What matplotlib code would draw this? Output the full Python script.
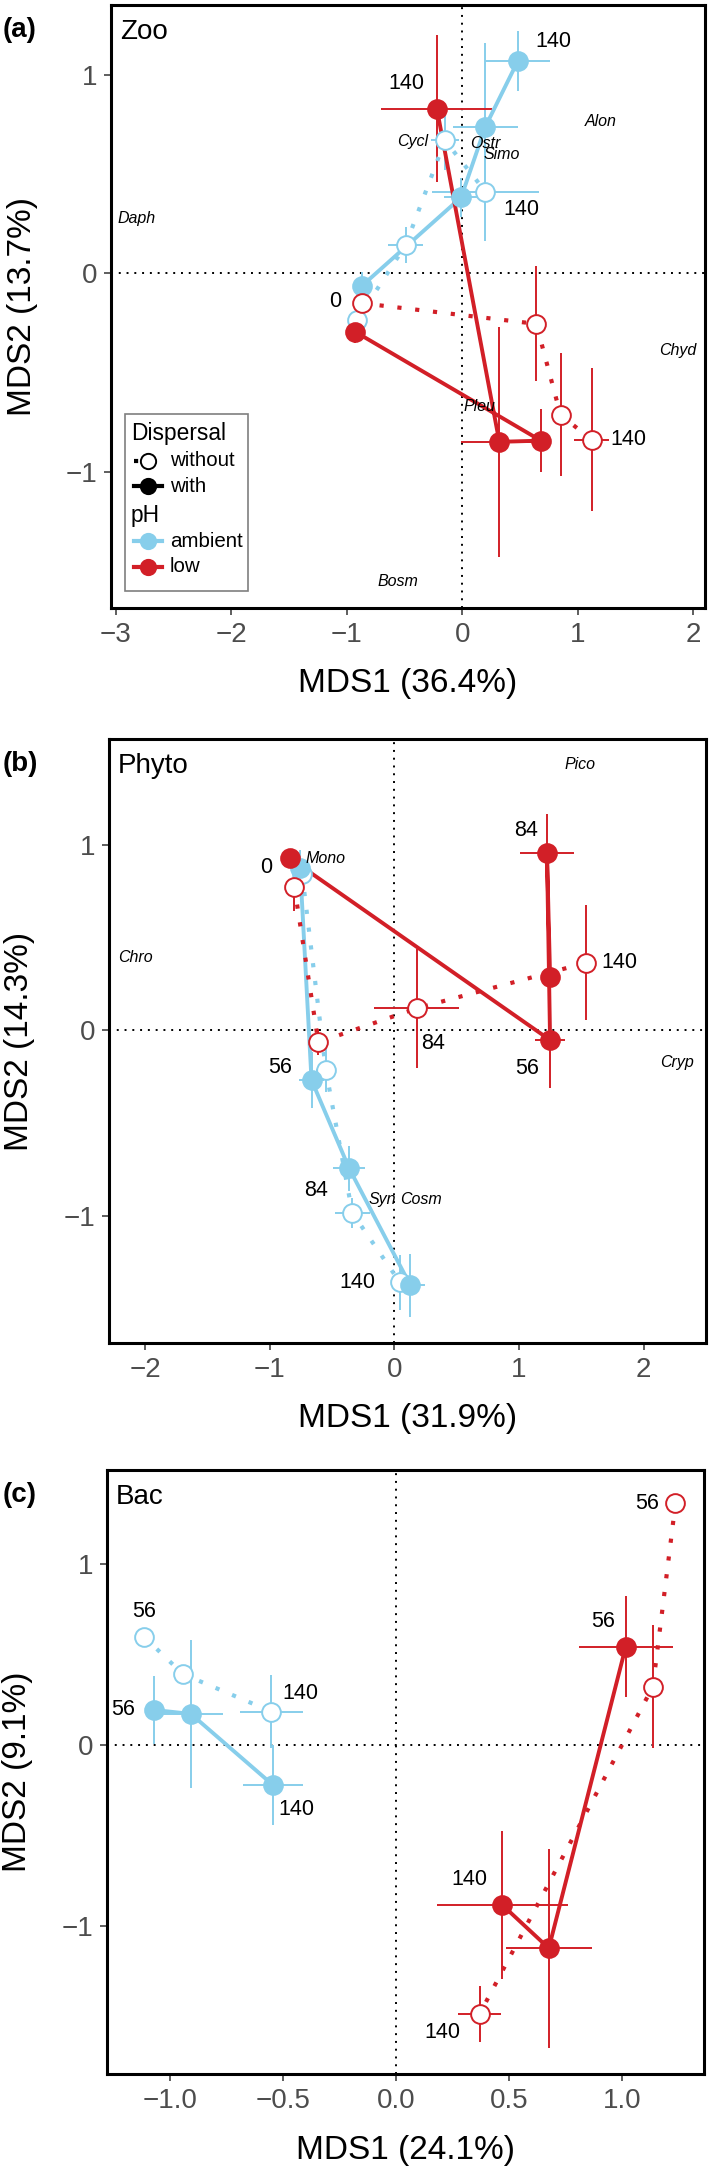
import numpy as np
import matplotlib
matplotlib.use("Agg")
import matplotlib.pyplot as plt
from matplotlib.lines import Line2D
from matplotlib.patches import Rectangle

plt.rcParams['font.family'] = ['Liberation Sans', 'DejaVu Sans']

BLUE = '#87ceeb'
RED = '#d21f27'

# series order in every panel: ambient/with, ambient/without, low/with, low/without
ph_levels = ['ambient', 'ambient', 'low', 'low']
dispersal = ['with', 'without', 'with', 'without']

# ---- (a) Zoo, days 0, 56, 84, 140
zoo_x = [[-0.87, -0.01, 0.20, 0.48],
         [-0.91, -0.49, -0.15, 0.20],
         [-0.93, 0.68, 0.32, -0.22],
         [-0.87, 0.64, 0.85, 1.12]]
zoo_y = [[-0.064, 0.383, 0.74, 1.07],
         [-0.236, 0.143, 0.67, 0.412],
         [-0.294, -0.844, -0.85, 0.83],
         [-0.151, -0.255, -0.714, -0.84]]
zoo_xerr = [[0.05, 0.15, 0.28, 0.28],
            [0.06, 0.15, 0.12, 0.46],
            [0.03, 0.05, 0.33, 0.48],
            [0.03, 0.05, 0.04, 0.15]]
zoo_yerr = [[0.07, 0.10, 0.42, 0.15],
            [0.03, 0.09, 0.15, 0.25],
            [0.06, 0.16, 0.58, 0.37],
            [0.03, 0.29, 0.31, 0.36]]
zoo_species = ['Alon', 'Cycl', 'Ostr', 'Simo', 'Daph', 'Chyd', 'Pleu', 'Bosm']
zoo_species_x = [1.20, -0.43, 0.20, 0.34, -2.82, 1.86, 0.15, -0.555]
zoo_species_y = [0.765, 0.664, 0.655, 0.60, 0.274, -0.39, -0.67, -1.555]
# (series, point, text, dx px, dy px)
zoo_labels = [(0, 3, '140', 36, 20), (2, 3, '140', -31, 25), (1, 3, '140', 36, -18),
              (3, 0, '0', -27, 2), (3, 3, '140', 37, 0)]

# ---- (b) Phyto, days 0, 56, 84, 140
phy_x = [[-0.756, -0.665, -0.363, 0.127],
         [-0.74, -0.55, -0.338, 0.044],
         [-0.836, 1.249, 1.224, 1.249],
         [-0.803, -0.61, 0.178, 1.54]]
phy_y = [[0.872, -0.27, -0.746, -1.375],
         [0.84, -0.216, -0.985, -1.36],
         [0.925, -0.054, 0.953, 0.288],
         [0.772, -0.066, 0.117, 0.363]]
phy_xerr = [[0.03, 0.10, 0.13, 0.12],
            [0.03, 0.08, 0.14, 0.07],
            [0.03, 0.12, 0.22, 0.06],
            [0.02, 0.02, 0.34, 0.03]]
phy_yerr = [[0.10, 0.15, 0.12, 0.17],
            [0.05, 0.12, 0.08, 0.15],
            [0.05, 0.26, 0.21, 0.05],
            [0.13, 0.07, 0.32, 0.31]]
phy_species = ['Pico', 'Mono', 'Chro', 'Cryp', 'Syn', 'Cosm']
phy_species_x = [1.486, -0.55, -2.08, 2.27, -0.10, 0.21]
phy_species_y = [1.43, 0.927, 0.39, -0.176, -0.916, -0.916]
phy_labels = [(3, 0, '0', -28, 19), (2, 2, '84', -21, 23), (3, 3, '140', 33, 0),
              (3, 2, '84', 16, -35), (2, 1, '56', -23, -28), (0, 1, '56', -31, 13),
              (0, 2, '84', -33, -22), (1, 3, '140', -43, 0)]

# ---- (c) Bac, days 56, 84, 140
bac_x = [[-1.07, -0.906, -0.544],
         [-1.114, -0.942, -0.55],
         [1.016, 0.676, 0.47],
         [1.236, 1.136, 0.37]]
bac_y = [[0.194, 0.172, -0.221],
         [0.60, 0.393, 0.185],
         [0.544, -1.125, -0.885],
         [1.339, 0.323, -1.489]]
bac_xerr = [[0.03, 0.14, 0.133],
            [0.02, 0.04, 0.138],
            [0.207, 0.19, 0.29],
            [0.02, 0.04, 0.096]]
bac_yerr = [[0.19, 0.41, 0.22],
            [0.02, 0.04, 0.20],
            [0.28, 0.55, 0.41],
            [0.02, 0.34, 0.157]]
bac_labels = [(1, 0, '56', 0, 25), (0, 0, '56', -31, 0), (1, 2, '140', 29, 18),
              (0, 2, '140', 24, -25), (2, 0, '56', -23, 25), (3, 0, '56', -28, 0),
              (2, 2, '140', -33, 25), (3, 2, '140', -37, -18)]

W, H = 709, 2170
fig = plt.figure(figsize=(W / 100, H / 100), dpi=100)


def add_axes_px(left, top, right, bottom):
    return fig.add_axes([left / W, 1 - bottom / H, (right - left) / W, (bottom - top) / H])


def draw_panel(ax, xs, ys, xe, ye, labels, title, letter, xlabel, ylabel,
               xlim, ylim, xticks, yticks, species=None):
    ax.set_xlim(*xlim)
    ax.set_ylim(*ylim)
    ax.axhline(0, color='black', lw=1.4, ls=(0, (1, 3)), zorder=1)
    ax.axvline(0, color='black', lw=1.4, ls=(0, (1, 3)), zorder=1)

    for i in range(4):
        col = BLUE if ph_levels[i] == 'ambient' else RED
        ax.errorbar(xs[i], ys[i], xerr=xe[i], yerr=ye[i], fmt='none',
                    ecolor=col, elinewidth=1.4, capsize=0, zorder=2)
    for i in range(4):
        col = BLUE if ph_levels[i] == 'ambient' else RED
        if dispersal[i] == 'with':
            ax.plot(xs[i], ys[i], color=col, lw=2.8, solid_capstyle='round', zorder=3)
        else:
            ax.plot(xs[i], ys[i], color=col, lw=3.0, ls=(0, (1, 3.3)), zorder=3)
    for i in [1, 0, 3, 2]:
        col = BLUE if ph_levels[i] == 'ambient' else RED
        fc = col if dispersal[i] == 'with' else 'white'
        ax.plot(xs[i], ys[i], ls='none', marker='o', ms=13.5, mfc=fc, mec=col,
                mew=1.4, zorder=4)

    for s, k, txt, dx, dy in labels:
        ax.annotate(txt, (xs[s][k], ys[s][k]), xytext=(dx, dy), textcoords='offset pixels',
                    ha='center', va='center', fontsize=15.5, color='black', zorder=5)

    if species is not None:
        for name, sx, sy in zip(*species):
            ax.text(sx, sy, name, ha='center', va='center', fontsize=11.5,
                    style='italic', color='black', zorder=5)

    ax.text(0.015, 0.955, title, transform=ax.transAxes, ha='left', va='center',
            fontsize=20, zorder=6)

    ax.set_xticks(xticks)
    ax.set_yticks(yticks)
    ax.tick_params(direction='out', length=5, width=1.1, color='#333333',
                   labelcolor='#4d4d4d', labelsize=20, pad=5)
    for sp in ax.spines.values():
        sp.set_linewidth(2.2)
        sp.set_color('black')

    ax.set_xlabel(xlabel, fontsize=24, va='center')
    ax.xaxis.set_label_coords(0.5, -76 / 604)
    ax.set_ylabel(ylabel, fontsize=24, va='center')
    ax.yaxis.set_label_coords(-89 / 596, 0.5)

    bb = ax.get_position()
    fig.text(3 / W, bb.y1 + (5 - 30) / H, letter, ha='left', va='center',
             fontsize=20, fontweight='bold')


ax_a = add_axes_px(111, 5, 705, 608)
draw_panel(ax_a, zoo_x, zoo_y, zoo_xerr, zoo_yerr, zoo_labels, 'Zoo', '(a)',
           'MDS1 (36.4%)', 'MDS2 (13.7%)', (-3.04, 2.10), (-1.688, 1.353),
           [-3, -2, -1, 0, 1, 2], [-1, 0, 1],
           species=(zoo_species, zoo_species_x, zoo_species_y))

ax_b = add_axes_px(109, 739, 706, 1343)
draw_panel(ax_b, phy_x, phy_y, phy_xerr, phy_yerr, phy_labels, 'Phyto', '(b)',
           'MDS1 (31.9%)', 'MDS2 (14.3%)', (-2.29, 2.50), (-1.687, 1.569),
           [-2, -1, 0, 1, 2], [-1, 0, 1],
           species=(phy_species, phy_species_x, phy_species_y))

ax_c = add_axes_px(107, 1470, 704, 2074)
draw_panel(ax_c, bac_x, bac_y, bac_xerr, bac_yerr, bac_labels, 'Bac', '(c)',
           'MDS1 (24.1%)', 'MDS2 (9.1%)', (-1.277, 1.362), (-1.821, 1.522),
           [-1.0, -0.5, 0.0, 0.5, 1.0], [-1, 0, 1])

# legend in panel (a), drawn by hand like the ggplot guide box
tr = ax_a.transAxes
ax_a.add_patch(Rectangle((0.0236, 0.0282), 0.207, 0.2935, transform=tr,
                         facecolor='white', edgecolor='#7f7f7f', lw=1.2, zorder=7))
hx0, hx1, hxc, tx = 0.0387, 0.0859, 0.0623, 0.0993
ax_a.text(0.0337, 0.290, 'Dispersal', transform=tr, ha='left', va='center',
          fontsize=16.4, zorder=8)
ax_a.text(0.0337, 0.1542, 'pH', transform=tr, ha='left', va='center',
          fontsize=16.4, zorder=8)
rows = [(0.2438, 'without', 'black', (0, (1, 3.3)), 'white'),
        (0.2023, 'with', 'black', '-', 'black'),
        (0.1111, 'ambient', BLUE, '-', BLUE),
        (0.068, 'low', RED, '-', RED)]
for ry, txt, col, ls, fc in rows:
    ax_a.add_line(Line2D([hx0, hx1], [ry, ry], transform=tr, color=col, lw=3.0,
                         ls=ls, zorder=8))
    ax_a.add_line(Line2D([hxc], [ry], transform=tr, ls='none', marker='o', ms=11,
                         mfc=fc, mec=col, mew=1.4, zorder=9))
    ax_a.text(tx, ry, txt, transform=tr, ha='left', va='center', fontsize=14.8, zorder=8)

fig.savefig('out.png', dpi=100)
